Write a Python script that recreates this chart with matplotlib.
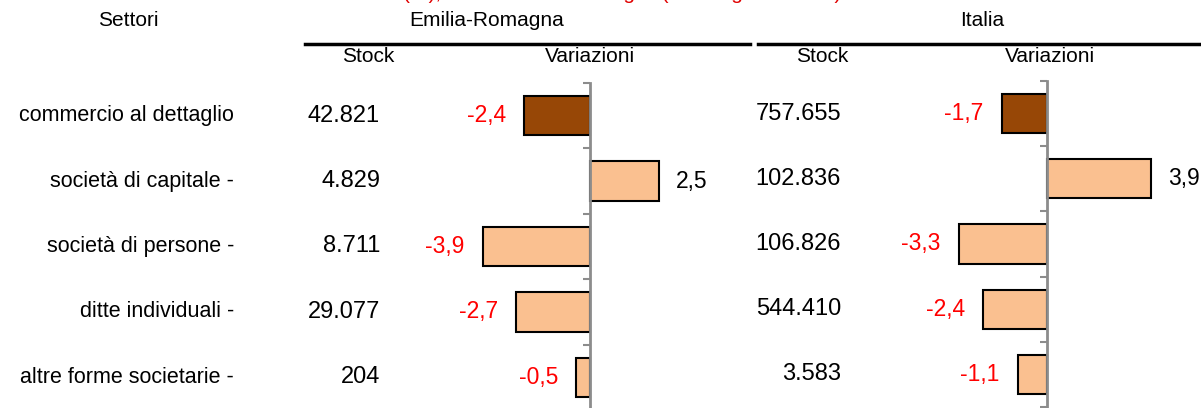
import matplotlib
matplotlib.use("Agg")
from matplotlib import pyplot as plt
import matplotlib.transforms as mtransforms

plt.rcParams['font.family'] = ['Liberation Sans', 'DejaVu Sans']

settori = ['commercio al dettaglio', 'società di capitale -', 'società di persone -',
           'ditte individuali -', 'altre forme societarie -']
stock_er = ['42.821', '4.829', '8.711', '29.077', '204']
stock_it = ['757.655', '102.836', '106.826', '544.410', '3.583']
var_er = [-2.4, 2.5, -3.9, -2.7, -0.5]
var_it = [-1.7, 3.9, -3.3, -2.4, -1.1]

dark = '#974706'
light = '#FAC090'
colors = [dark] + [light] * 4
W, H = 1201, 408
FS_HEAD = 15
FS_ROW = 15.5
FS_NUM = 17
FS_LAB = 16.5


def fx(px):
    return px / W


def fy(py):
    return 1 - py / H


def fmt(v):
    return f'{v:.1f}'.replace('.', ',')


def bar_panel(ax, values, xlim):
    y = range(len(values))
    ax.barh(y, values, height=0.6, color=colors, edgecolor='black', linewidth=1.5, zorder=2)
    ax.set_xlim(*xlim)
    ax.set_ylim(len(values) - 0.5, -0.5)
    for s in ['top', 'right', 'bottom']:
        ax.spines[s].set_visible(False)
    ax.spines['left'].set_position(('data', 0))
    ax.spines['left'].set_color('#8c8c8c')
    ax.spines['left'].set_linewidth(2)
    ax.spines['left'].set_zorder(3)
    ax.set_yticks([i - 0.5 for i in range(len(values) + 1)])
    ax.set_yticklabels([])
    ax.tick_params(axis='y', direction='out', length=5, width=1.5, color='#8c8c8c')
    ax.set_xticks([])
    ax.patch.set_visible(False)
    for i, v in enumerate(values):
        if v < 0:
            ax.annotate(fmt(v), (v, i), xytext=(-13, 0), textcoords='offset points',
                        ha='right', va='center', color='red', fontsize=FS_LAB)
        else:
            ax.annotate(fmt(v), (v, i), xytext=(12, 0), textcoords='offset points',
                        ha='left', va='center', color='black', fontsize=FS_LAB)


fig = plt.figure(figsize=(W / 100, H / 100), dpi=100)

ax_er = fig.add_axes([fx(400), fy(410), fx(300), fy(83) - fy(410)])
bar_panel(ax_er, var_er, (-190 / 27.5, 110 / 27.5))

ax_it = fig.add_axes([fx(860), fy(407), fx(340), fy(81) - fy(407)])
bar_panel(ax_it, var_it, (-187 / 26.7, 153 / 26.7))

# row labels and stock columns, placed on the bar axis rows
tr = mtransforms.blended_transform_factory(fig.transFigure, ax_er.transData)
tr_it = mtransforms.blended_transform_factory(fig.transFigure, ax_it.transData)
for i, name in enumerate(settori):
    fig.text(fx(234), i, name, transform=tr, ha='right', va='center', fontsize=FS_ROW)
    fig.text(fx(380), i, stock_er[i], transform=tr, ha='right', va='center', fontsize=FS_NUM)
    fig.text(fx(841), i, stock_it[i], transform=tr_it, ha='right', va='center', fontsize=FS_NUM)

# headers
fig.text(fx(128), fy(21), 'Settori', ha='center', va='center', fontsize=FS_HEAD)
fig.text(fx(487), fy(21), 'Emilia-Romagna', ha='center', va='center', fontsize=FS_HEAD)
fig.text(fx(982), fy(21), 'Italia', ha='center', va='center', fontsize=FS_HEAD)
fig.text(fx(368), fy(57), 'Stock', ha='center', va='center', fontsize=FS_HEAD)
fig.text(fx(590), fy(57), 'Variazioni', ha='center', va='center', fontsize=FS_HEAD)
fig.text(fx(822), fy(57), 'Stock', ha='center', va='center', fontsize=FS_HEAD)
fig.text(fx(1050), fy(57), 'Variazioni', ha='center', va='center', fontsize=FS_HEAD)
fig.add_artist(plt.Line2D([fx(305), fx(750)], [fy(44), fy(44)], color='black', linewidth=2.5))
fig.add_artist(plt.Line2D([fx(758), fx(1201)], [fy(44), fy(44)], color='black', linewidth=2.5))

# title, cut by the top edge of the image
fig.text(fx(403), fy(-1), 'Stock e variazioni ', ha='right', va='baseline',
         fontsize=FS_HEAD, color='#E00000')
fig.text(fx(403), fy(-1), '(%), commercio al dettaglio (al 31 agosto 2024)', ha='left',
         va='baseline', fontsize=FS_HEAD, color='#E00000')

fig.savefig('out.png', dpi=100)
